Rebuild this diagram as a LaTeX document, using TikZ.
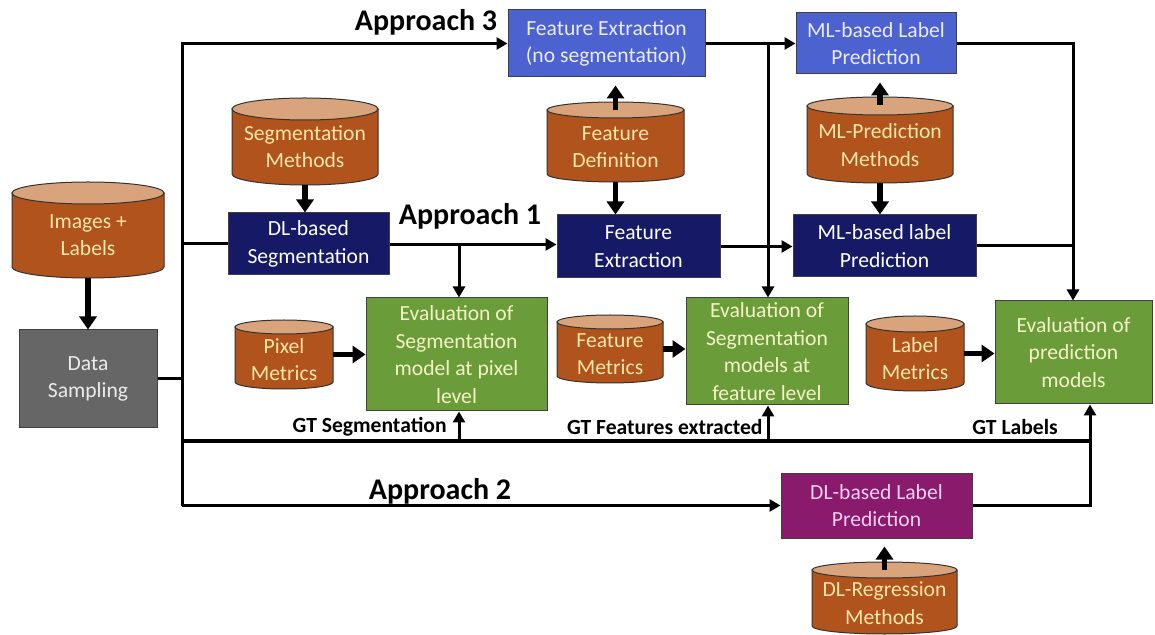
\documentclass[tikz,border=0pt]{standalone}
\usepackage{fontspec}
\setmainfont{Carlito}
\usetikzlibrary{arrows.meta}
\definecolor{cylbody}{HTML}{B0531D}
\definecolor{cyltop}{HTML}{D9A47C}
\definecolor{cyltxt}{HTML}{FAE7A8}
\definecolor{navy}{HTML}{161A66}
\definecolor{mblue}{HTML}{4C62CE}
\definecolor{mgreen}{HTML}{6B9C3A}
\definecolor{greentxt}{HTML}{F3F3C6}
\definecolor{purp}{HTML}{8A1A6C}
\definecolor{purptxt}{HTML}{F6CFF2}
\definecolor{dgray}{HTML}{666666}
\tikzset{
  basefont/.style={font=\fontsize{10.8}{13.8}\selectfont},
  box/.style={draw=black!75, line width=0.5pt, inner sep=0pt, align=center, basefont},
  navybox/.style={box, fill=navy, text=white},
  bluebox/.style={box, fill=mblue, text=white!92!blue},
  greenbox/.style={box, fill=mgreen, text=greentxt},
  graybox/.style={box, fill=dgray, text=white!92!black},
  purpbox/.style={box, fill=purp, text=purptxt},
  cylb/.style={fill=cylbody, draw=black!80, line width=0.5pt},
  cylt/.style={fill=cyltop, draw=black!80, line width=0.5pt},
  cylnode/.style={inner sep=0pt, draw=none},
  cyltext/.style={basefont, text=cyltxt, align=center, inner sep=0pt},
  conn/.style={line width=1.5pt, draw=black},
  arr/.style={conn, -{Triangle[length=5.5pt, width=6pt]}},
  tarr/.style={line width=2.6pt, draw=black, -{Triangle[length=6.5pt, width=8.5pt]}},
  gtline/.style={line width=2pt, draw=black},
  apl/.style={font=\fontsize{15}{18}\selectfont\bfseries, inner sep=0pt},
  gtlab/.style={font=\fontsize{10.8}{13}\selectfont\bfseries, inner sep=0pt},
}
\newcommand\cyl[7]{%
  \pgfmathsetmacro\cx{(#2+#4)/2}%
  \pgfmathsetmacro\rxp{(#4-#2)/4}%
  \pgfmathsetmacro\ryp{#6/2}%
  \pgfmathsetmacro\ty{(#3+#5)/2+5}%
  \filldraw[cylb] (#2,#3+#6) -- (#2,#5-#6) arc[start angle=180, end angle=360, x radius=\rxp pt, y radius=\ryp pt] -- (#4,#3+#6) -- cycle;
  \filldraw[cylt] (\cx,#3+#6) ellipse[x radius=\rxp pt, y radius=\ryp pt];
  \node[cylnode, minimum width={(#4-#2)*0.5pt}, minimum height={(#5-#3)*0.5pt}] (#1) at (\cx,{(#3+#5)/2}) {};
  \node[cyltext] (#1-t) at (\cx,\ty) {#7};
}
\newcommand\bx[7]{%
  \node[#2, minimum width={(#5-#3)*0.5pt}, minimum height={(#6-#4)*0.5pt}] (#1) at ({(#3+#5)/2},{(#4+#6)/2}) {#7};
}
\begin{document}
\begin{tikzpicture}[x=0.5pt, y=-0.5pt]
\useasboundingbox (0,0) rectangle (1155,635);
% cylinders
\cyl{imgs}{12}{182}{164}{278}{11}{Images +\\Labels}
\cyl{segm}{232}{98}{378}{185}{11}{Segmentation\\Methods}
\cyl{featdef}{547}{102}{684}{182}{8}{Feature\\Definition}
\cyl{mlpm}{807}{97}{953}{183}{9}{ML-Prediction\\Methods}
\cyl{pixm}{235}{320}{333}{389}{7}{Pixel\\Metrics}
\cyl{featm}{557}{315}{663}{383}{7}{Feature\\Metrics}
\cyl{labm}{866}{316}{964}{391}{8}{Label\\Metrics}
\cyl{dlreg}{812}{562}{957}{634}{8}{DL-Regression\\Methods}
% boxes
\bx{ds}{graybox}{19}{330}{157}{428}{Data\\Sampling}
\bx{dlseg}{navybox}{228}{213}{389}{275}{DL-based\\Segmentation}
\bx{fe3}{bluebox}{508}{10}{705}{77}{Feature Extraction\\(no segmentation)}
\bx{fe1}{navybox}{557}{215}{720}{278}{Feature\\Extraction}
\bx{ml3}{bluebox}{796}{13}{956}{74}{ML-based Label\\Prediction}
\bx{ml1}{navybox}{793}{215}{976}{277}{ML-based label\\Prediction}
\bx{evpix}{greenbox}{366}{298}{547}{411}{Evaluation of\\Segmentation\\model at pixel\\level}
\bx{evfeat}{greenbox}{686}{298}{848}{405}{Evaluation of\\Segmentation\\models at\\feature level}
\bx{evpred}{greenbox}{995}{301}{1152}{404}{Evaluation of\\prediction\\models}
\bx{dllab}{purpbox}{781}{473}{972}{538}{DL-based Label\\Prediction}
% coordinates
\coordinate (bT) at (182,43.5);
\coordinate (bB) at (182,505.5);
\coordinate (gtL) at (182,441);
\coordinate (gtR) at (1090,441);
\coordinate (br1) at (459,244.5);
\coordinate (v3) at (768,43.5);
\coordinate (rJ) at (1073,43.5);
\coordinate (dJ) at (1090,505.5);
% bus and main connectors
\draw[conn] (ds.east) -- (ds.east -| bT);
\draw[arr] (bB) -- (bT) -- (fe3.west);
\draw[conn] (bT |- dlseg.west) -- (dlseg.west);
\draw[gtline] (gtL) -- (gtR);
\draw[arr] (bB) -- (dllab.west);
% approach 1
\draw[arr] (dlseg.east |- br1) -- (br1 -| fe1.west);
\draw[arr] (br1) -- (br1 |- evpix.north);
\draw[arr] (br1 |- gtL) -- (br1 |- evpix.south);
\draw[arr] (fe1.east) -- (fe1.east -| ml1.west);
% approach 3
\draw[arr] (fe3.east) -- (ml3.west);
\draw[arr] (v3) -- (v3 |- evfeat.north);
\draw[arr] (v3 |- gtL) -- (v3 |- evfeat.south);
% right side
\draw[arr] (ml3.east) -- (rJ) -- (rJ |- evpred.north);
\draw[conn] (ml1.east) -- (ml1.east -| rJ);
\draw[arr] (dllab.east) -- (dJ) -- (dJ |- evpred.south);
% thick arrows from cylinders
\draw[tarr] (segm.south) -- (segm.south |- dlseg.north);
\draw[tarr] (imgs.south) -- (imgs.south |- ds.north);
\draw[tarr] ([yshift=-4pt]featdef.north) -- ([yshift=-4pt]featdef.north |- fe3.south);
\draw[tarr] (featdef.south) -- (featdef.south |- fe1.north);
\draw[tarr] ([yshift=-4pt]mlpm.north) -- ([yshift=-4pt]mlpm.north |- ml3.south);
\draw[tarr] (mlpm.south) -- (mlpm.south |- ml1.north);
\draw[tarr] ([yshift=-4pt]dlreg.north) -- ([yshift=-4pt]dlreg.north |- dllab.south);
\draw[tarr] (pixm.east) -- (pixm.east -| evpix.west);
\draw[tarr] (featm.east) -- (featm.east -| evfeat.west);
\draw[tarr] (labm.east) -- (labm.east -| evpred.west);
% labels
\node[apl] (ap3) at (426,22) {Approach 3};
\node[apl] (ap1) at (470,216) {Approach 1};
\node[apl] (ap2) at (440,491) {Approach 2};
\node[gtlab, anchor=east] (gt1) at (447,427) {GT Segmentation};
\node[gtlab, anchor=east] (gt2) at (763,427) {GT Features extracted};
\node[gtlab] (gt3) at (1015,427) {GT Labels};
\end{tikzpicture}
\end{document}
